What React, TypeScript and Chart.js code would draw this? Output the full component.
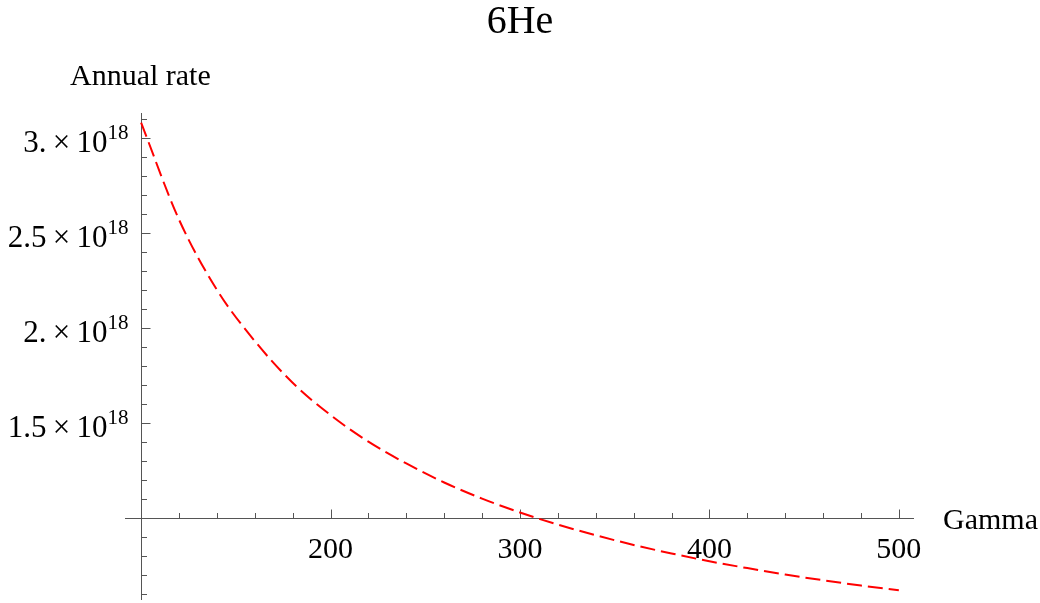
import React, { useEffect, useRef } from "react";
import { Chart, registerables } from "chart.js";

Chart.register(...registerables);

// ---- data ----
const gammaValues = [100, 120, 140, 160, 180, 200, 220, 240, 260, 280, 300, 320, 340, 360, 380, 400, 420, 440, 460, 480, 500];
const annualRates = [
  3.08e18, 2.57e18, 2.2e18, 1.93e18, 1.71e18, 1.54e18, 1.4e18, 1.285e18, 1.185e18, 1.1e18, 1.027e18,
  0.963e18, 0.907e18, 0.856e18, 0.811e18, 0.77e18, 0.734e18, 0.7e18, 0.67e18, 0.642e18, 0.617e18,
];

const xMajorTicks = [100, 200, 300, 400, 500];
const xMajorLabels = ["", "200", "300", "400", "500"];
const xMinorTicks = [120, 140, 160, 180, 220, 240, 260, 280, 320, 340, 360, 380, 420, 440, 460, 480];

const yMajorTicks = [1.0e18, 1.5e18, 2.0e18, 2.5e18, 3.0e18];
const yMajorMantissas = ["", "1.5", "2.", "2.5", "3."];
const yMinorTicks = [
  0.6e18, 0.7e18, 0.8e18, 0.9e18, 1.1e18, 1.2e18, 1.3e18, 1.4e18, 1.6e18, 1.7e18, 1.8e18, 1.9e18,
  2.1e18, 2.2e18, 2.3e18, 2.4e18, 2.6e18, 2.7e18, 2.8e18, 2.9e18, 3.1e18,
];
const yExponent = "18";

const titleText = "6He";
const xAxisTitle = "Gamma";
const yAxisTitle = "Annual rate";

const X_MIN = 91.5;
const X_MAX = 508;
const Y_MIN = 0.566e18;
const Y_MAX = 3.131e18;
const X_AXIS_AT = 1.0e18;
const Y_AXIS_AT = 100;

const SERIF = '"Liberation Serif", "Times New Roman", serif';
const AXIS_COLOR = "#555555";

const axesPlugin = {
  id: "mathematicaAxes",
  beforeDatasetsDraw(chart: any) {
    const ctx = chart.ctx;
    const xs = chart.scales.x;
    const ys = chart.scales.y;
    const ca = chart.chartArea;
    const axisY = Math.round(ys.getPixelForValue(X_AXIS_AT)) + 0.5;
    const axisX = Math.round(xs.getPixelForValue(Y_AXIS_AT)) + 0.5;

    ctx.save();
    ctx.strokeStyle = AXIS_COLOR;
    ctx.lineWidth = 1;
    ctx.beginPath();
    // x axis
    ctx.moveTo(ca.left, axisY);
    ctx.lineTo(ca.right, axisY);
    // y axis
    ctx.moveTo(axisX, ca.top);
    ctx.lineTo(axisX, ca.bottom);
    // x ticks
    xMajorTicks.forEach((v) => {
      const px = Math.round(xs.getPixelForValue(v)) + 0.5;
      ctx.moveTo(px, axisY);
      ctx.lineTo(px, axisY - 9);
    });
    xMinorTicks.forEach((v) => {
      const px = Math.round(xs.getPixelForValue(v)) + 0.5;
      ctx.moveTo(px, axisY);
      ctx.lineTo(px, axisY - 5.5);
    });
    // y ticks
    yMajorTicks.forEach((v) => {
      const py = Math.round(ys.getPixelForValue(v)) + 0.5;
      ctx.moveTo(axisX, py);
      ctx.lineTo(axisX + 9, py);
    });
    yMinorTicks.forEach((v) => {
      const py = Math.round(ys.getPixelForValue(v)) + 0.5;
      ctx.moveTo(axisX, py);
      ctx.lineTo(axisX + 5.5, py);
    });
    ctx.stroke();

    // x tick labels
    ctx.fillStyle = "#000";
    ctx.font = `30px ${SERIF}`;
    ctx.textAlign = "center";
    ctx.textBaseline = "alphabetic";
    xMajorTicks.forEach((v, i) => {
      if (!xMajorLabels[i]) return;
      const px = xs.getPixelForValue(v);
      ctx.fillText(xMajorLabels[i], px, axisY + 39.5);
    });

    // y tick labels: mantissa × 10^exp
    const rightEdge = axisX - 13;
    yMajorTicks.forEach((v, i) => {
      if (!yMajorMantissas[i]) return;
      const py = ys.getPixelForValue(v);
      ctx.font = `21px ${SERIF}`;
      ctx.textAlign = "right";
      const supW = ctx.measureText(yExponent).width;
      ctx.fillText(yExponent, rightEdge, py + 1);
      ctx.font = `31px ${SERIF}`;
      ctx.fillText(`${yMajorMantissas[i]}\u2009\u00d7\u200910`, rightEdge - supW, py + 14);
    });

    // axis titles
    ctx.font = `30px ${SERIF}`;
    ctx.textAlign = "left";
    ctx.fillText(xAxisTitle, 943, axisY + 10.5);
    ctx.fillText(yAxisTitle, 70, 84.5);

    // plot title
    ctx.font = `40px ${SERIF}`;
    ctx.textAlign = "center";
    ctx.fillText(titleText, chart.width / 2, 33);
    ctx.restore();
  },
};

export default function App() {
  const canvasRef = useRef<HTMLCanvasElement | null>(null);

  useEffect(() => {
    document.body.style.margin = "0";
    const canvas = canvasRef.current;
    if (!canvas) return;
    const points = gammaValues.map((g, i) => ({ x: g, y: annualRates[i] }));
    const chart = new Chart(canvas, {
      type: "line",
      data: {
        datasets: [
          {
            data: points,
            borderColor: "#ff0000",
            borderWidth: 2,
            borderDash: [15, 6],
            pointRadius: 0,
            fill: false,
            cubicInterpolationMode: "monotone",
          },
        ],
      },
      options: {
        responsive: false,
        animation: false,
        devicePixelRatio: 1,
        layout: { padding: { left: 125, right: 126, top: 113, bottom: 3 } },
        plugins: { legend: { display: false }, tooltip: { enabled: false }, title: { display: false } },
        scales: {
          x: { type: "linear", min: X_MIN, max: X_MAX, display: false },
          y: { type: "linear", min: Y_MIN, max: Y_MAX, display: false },
        },
      },
      plugins: [axesPlugin],
    } as any);
    return () => chart.destroy();
  }, []);

  return (
    <div style={{ width: 1040, height: 603, background: "#fff" }}>
      <canvas ref={canvasRef} width={1040} height={603} style={{ display: "block" }} />
    </div>
  );
}
